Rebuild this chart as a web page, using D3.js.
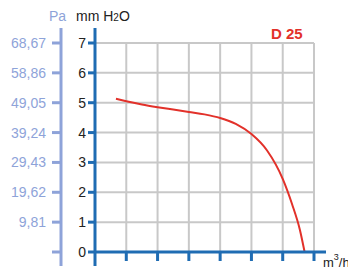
<!DOCTYPE html>
<html>
<head>
<meta charset="utf-8">
<script src="https://cdn.jsdelivr.net/npm/d3@7"></script>
<style>
  body { margin: 0; background: #fff; }
  svg { display: block; font-family: "Liberation Sans", Arial, sans-serif; }
</style>
</head>
<body>
<svg id="chart" width="348" height="268"></svg>
<script>
// fan curve D 25, flow (m3/h) vs pressure (mm H2O)
var flow = [0.67, 1.0, 1.5, 2.0, 2.5, 3.0, 3.5, 4.0, 4.5, 5.0, 5.5, 6.0, 6.3, 6.55, 6.7];
var pressure = [5.13, 5.05, 4.94, 4.85, 4.77, 4.69, 4.61, 4.49, 4.29, 3.95, 3.40, 2.45, 1.60, 0.74, 0.0];
var mmTicks = [0, 1, 2, 3, 4, 5, 6, 7];
var paLabels = ["", "9,81", "19,62", "29,43", "39,24", "49,05", "58,86", "68,67"];
var xTicks = [1, 2, 3, 4, 5, 6, 7];

var svg = d3.select('#chart');
var x = d3.scaleLinear().domain([0, 7]).range([95, 314]);
var y = d3.scaleLinear().domain([0, 7]).range([252, 43]);

var blue = '#1f6cb3', paBlue = '#8ea3d9', grid = '#c8c8c8', red = '#e2312a';

// grid
svg.selectAll('.vg').data(xTicks).enter().append('line')
    .attr('x1', d => x(d)).attr('x2', d => x(d))
    .attr('y1', y(0)).attr('y2', y(7))
    .attr('stroke', grid).attr('stroke-width', 2);
svg.selectAll('.hg').data(mmTicks.slice(1)).enter().append('line')
    .attr('x1', x(0)).attr('x2', x(7))
    .attr('y1', d => y(d)).attr('y2', d => y(d))
    .attr('stroke', grid).attr('stroke-width', 2);

// curve
var line = d3.line().x((d, i) => x(flow[i])).y(d => y(d)).curve(d3.curveMonotoneX);
svg.append('path').datum(pressure).attr('d', line)
    .attr('fill', 'none').attr('stroke', red).attr('stroke-width', 2);

// bottom axis
svg.append('line').attr('x1', x(0)).attr('x2', 326).attr('y1', y(0)).attr('y2', y(0))
    .attr('stroke', blue).attr('stroke-width', 3);
svg.selectAll('.xt').data(xTicks).enter().append('line')
    .attr('x1', d => x(d)).attr('x2', d => x(d))
    .attr('y1', y(0)).attr('y2', y(0) + 9)
    .attr('stroke', blue).attr('stroke-width', 3);

// mm H2O axis
svg.append('line').attr('x1', x(0)).attr('x2', x(0)).attr('y1', 28).attr('y2', 266)
    .attr('stroke', blue).attr('stroke-width', 3);
svg.selectAll('.yt').data(mmTicks).enter().append('line')
    .attr('x1', x(0) - 7).attr('x2', x(0))
    .attr('y1', d => y(d)).attr('y2', d => y(d))
    .attr('stroke', blue).attr('stroke-width', 3);
svg.selectAll('.yl').data(mmTicks).enter().append('text')
    .attr('x', 86).attr('y', d => y(d) + 5)
    .attr('text-anchor', 'end').attr('font-size', 14).attr('fill', '#222')
    .text(d => d);

// Pa axis
svg.append('line').attr('x1', 61).attr('x2', 61).attr('y1', 28).attr('y2', 266)
    .attr('stroke', paBlue).attr('stroke-width', 3);
svg.selectAll('.pt').data(mmTicks).enter().append('line')
    .attr('x1', 52).attr('x2', 61)
    .attr('y1', d => y(d)).attr('y2', d => y(d))
    .attr('stroke', paBlue).attr('stroke-width', 3);
svg.selectAll('.pl').data(mmTicks).enter().append('text')
    .attr('x', 46).attr('y', d => y(d) + 5)
    .attr('text-anchor', 'end').attr('font-size', 14).attr('fill', paBlue)
    .text((d, i) => paLabels[i]);

// titles
svg.append('text').attr('x', 49).attr('y', 21).attr('font-size', 14).attr('fill', paBlue).text('Pa');
var mm = svg.append('text').attr('x', 76).attr('y', 21).attr('font-size', 14).attr('fill', '#222');
mm.append('tspan').text('mm H');
mm.append('tspan').attr('font-size', 10).text('2');
mm.append('tspan').text('O');

svg.append('text').attr('x', 271).attr('y', 39).attr('font-size', 15).attr('font-weight', 'bold')
    .attr('fill', red).text('D 25');

var unit = svg.append('text').attr('x', 323).attr('y', 267).attr('font-size', 13).attr('fill', '#222');
unit.append('tspan').text('m');
unit.append('tspan').attr('font-size', 9).attr('dy', -7).text('3');
unit.append('tspan').attr('dy', 7).text('/h');
</script>
</body>
</html>
